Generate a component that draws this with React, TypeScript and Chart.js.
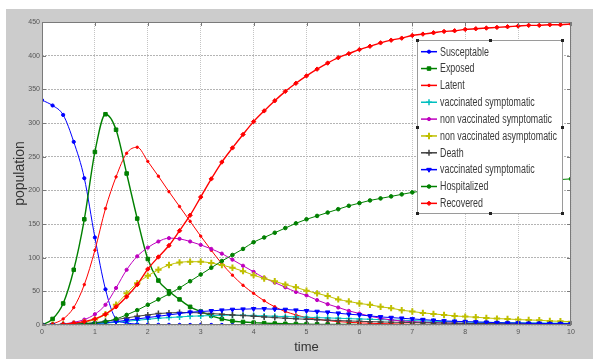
import React, { useEffect, useRef } from 'react';
import { Chart, registerables } from 'chart.js';
import { drawPoint } from 'chart.js/helpers';

Chart.register(...registerables);

const TIME = [0, 0.2, 0.4, 0.6, 0.8, 1, 1.2, 1.4, 1.6, 1.8, 2, 2.2, 2.4, 2.6, 2.8, 3, 3.2, 3.4, 3.6, 3.8, 4, 4.2, 4.4, 4.6, 4.8, 5, 5.2, 5.4, 5.6, 5.8, 6, 6.2, 6.4, 6.6, 6.8, 7, 7.2, 7.4, 7.6, 7.8, 8, 8.2, 8.4, 8.6, 8.8, 9, 9.2, 9.4, 9.6, 9.8, 10];

const SUSCEPTABLE = [334, 326, 312, 272, 218, 130, 53, 9, 3, 1.2, 0.6, 0.4, 0.3, 0.2, 0.15, 0.1, 0.1, 0.1, 0.1, 0.1, 0.1, 0.1, 0.1, 0.1, 0.1, 0.1, 0.1, 0.1, 0.1, 0.1, 0.1, 0.1, 0.1, 0.1, 0.1, 0.1, 0.1, 0.1, 0.1, 0.1, 0.1, 0.1, 0.1, 0.1, 0.1, 0.1, 0.1, 0.1, 0.1, 0.1, 0.1];
const EXPOSED = [0, 9, 32, 82, 157, 257, 313, 290, 225, 158, 98, 66, 50, 38, 27, 20, 14, 9, 6, 4.5, 3.5, 2.8, 2.2, 1.8, 1.5, 1.2, 1, 0.9, 0.8, 0.7, 0.6, 0.5, 0.5, 0.4, 0.4, 0.4, 0.3, 0.3, 0.3, 0.3, 0.2, 0.2, 0.2, 0.2, 0.2, 0.2, 0.1, 0.1, 0.1, 0.1, 0.1];
const LATENT = [0, 2, 9, 26, 60, 111, 173, 220, 255, 264, 243, 221, 198, 176, 154, 132, 111, 91, 74, 59, 47, 36, 27, 20, 15, 11, 8.5, 6.5, 5, 4, 3.2, 2.6, 2.1, 1.7, 1.4, 1.1, 0.9, 0.8, 0.7, 0.6, 0.5, 0.4, 0.4, 0.3, 0.3, 0.3, 0.2, 0.2, 0.2, 0.2, 0.2];
const VACC_SYMPT_A = [0, 0.1, 0.3, 0.6, 1, 1.8, 2.8, 4, 5.5, 7, 8.5, 10, 11, 12, 13, 13.5, 14, 14.5, 14.5, 14.5, 14, 13.5, 13, 12.5, 12, 11.5, 11, 10.5, 10, 9.5, 9, 8.5, 8, 7.5, 7, 6.5, 6, 5.5, 5, 4.8, 4.5, 4.2, 4, 3.8, 3.5, 3.3, 3.1, 3, 2.8, 2.7, 2.5];
const NONVACC_SYMPT = [0, 0.5, 1.5, 4, 8, 16, 30, 55, 82, 102, 115, 124, 129, 128, 124, 119, 113, 106, 97, 88, 79, 70, 63, 56, 49, 44, 37, 31, 26, 21, 17, 13, 10, 7.5, 6, 5, 4.2, 3.6, 3.1, 2.7, 2.3, 2, 1.8, 1.6, 1.4, 1.3, 1.2, 1.1, 1, 0.9, 0.9];
const NONVACC_ASYMPT = [0, 0.3, 1, 2, 4, 8, 16, 30, 47, 62, 73, 82, 89, 93, 94, 94, 92, 89, 85, 80, 74, 69, 65, 60, 56, 51, 47, 43, 38, 35, 32, 30, 27, 25, 22, 20, 18, 16.5, 15, 13.5, 12.5, 11.5, 10.5, 9.5, 9, 8, 7.5, 7, 6, 5.5, 5];
const DEATH = [0, 0.1, 0.4, 1, 2, 3.5, 5.5, 8, 10.5, 13, 15, 17, 18, 18.5, 18.5, 18, 17, 16, 15, 14, 13, 12, 11, 10, 9.2, 8.5, 7.8, 7.2, 6.6, 6, 5.5, 5, 4.6, 4.2, 3.9, 3.6, 3.3, 3, 2.8, 2.6, 2.4, 2.2, 2.1, 2, 1.9, 1.8, 1.7, 1.6, 1.5, 1.5, 1.4];
const VACC_SYMPT_B = [0, 0.2, 0.5, 1, 1.5, 2.5, 3.5, 5, 7, 9, 11, 13, 15, 17, 19, 20, 21, 22, 23, 23.5, 24, 24, 23.5, 23, 22, 21, 20, 19, 17.5, 16, 15, 13.5, 12, 11, 10, 9, 8, 7, 6, 5.5, 5, 4.5, 4, 3.5, 3, 3, 2.5, 2.5, 2, 2, 2];
const HOSPITALIZED = [0, 0.2, 0.5, 1, 2, 3, 5, 9, 15, 22, 30, 38, 46, 55, 65, 75, 85, 95, 104, 113, 123, 130, 137, 144, 151, 157, 162, 167, 172, 177, 181, 185, 188, 191, 194, 197, 199, 201, 203, 205, 206, 208, 209, 210, 211, 212, 213, 214, 215, 216, 217];
const RECOVERED = [0, 0.3, 1, 2.5, 5, 9, 16, 27, 42, 60, 83, 101, 118, 140, 163, 190, 217, 242, 263, 283, 302, 318, 333, 347, 359, 370, 380, 389, 397, 403, 409, 414, 419, 423, 426, 430, 432, 434, 436, 437, 439, 440, 441, 442, 443, 444, 445, 445, 446, 446, 447];

const SERIES_LABELS = ['Susceptable', 'Exposed', 'Latent', 'vaccinated symptomatic', 'non vaccinated symptomatic', 'non vaccinated asymptomatic', 'Death', 'vaccinated symptomatic', 'Hospitalized', 'Recovered'];
const SERIES_VALUES = [SUSCEPTABLE, EXPOSED, LATENT, VACC_SYMPT_A, NONVACC_SYMPT, NONVACC_ASYMPT, DEATH, VACC_SYMPT_B, HOSPITALIZED, RECOVERED];

const X_MIN = 0;
const X_MAX = 10;
const Y_MIN = 0;
const Y_MAX = 450;
const X_TITLE = 'time';
const Y_TITLE = 'population';

const STYLES = [
  { color: '#0000ff', point: 'circle', radius: 1.6, bw: 1, rot: 0 },
  { color: '#008000', point: 'rect', radius: 2.5, bw: 1, rot: 0 },
  { color: '#ff0000', point: 'circle', radius: 1.2, bw: 1, rot: 0 },
  { color: '#00bfbf', point: 'cross', radius: 3, bw: 1.5, rot: 0 },
  { color: '#bf00bf', point: 'circle', radius: 1.6, bw: 1, rot: 0 },
  { color: '#bfbf00', point: 'cross', radius: 3.2, bw: 2, rot: 0 },
  { color: '#404040', point: 'cross', radius: 3, bw: 1.5, rot: 0 },
  { color: '#0000ff', point: 'triangle', radius: 2.6, bw: 1, rot: 180 },
  { color: '#008000', point: 'circle', radius: 1.8, bw: 1, rot: 0 },
  { color: '#ff0000', point: 'rectRot', radius: 2.2, bw: 1, rot: 0 },
];

const FONT = '"Liberation Sans", Arial, sans-serif';

const backgroundPlugin = {
  id: 'matlabBg',
  beforeDraw(chart: any) {
    const { ctx, width, height, chartArea: ca } = chart;
    ctx.save();
    ctx.fillStyle = '#ffffff';
    ctx.fillRect(0, 0, width, height);
    ctx.fillStyle = '#cccccc';
    ctx.fillRect(6, 9, width - 6, height - 11);
    ctx.fillStyle = '#ffffff';
    ctx.fillRect(ca.left, ca.top, ca.right - ca.left, ca.bottom - ca.top);
    ctx.restore();
  },
};

const framePlugin = {
  id: 'matlabFrame',
  afterDatasetsDraw(chart: any) {
    const { ctx, chartArea: ca, scales } = chart;
    ctx.save();
    ctx.strokeStyle = '#7a7a7a';
    ctx.lineWidth = 1;
    ctx.strokeRect(ca.left + 0.5, ca.top + 0.5, ca.right - ca.left - 1, ca.bottom - ca.top - 1);
    ctx.beginPath();
    scales.x.ticks.forEach((t: any) => {
      const px = Math.round(scales.x.getPixelForValue(t.value)) + 0.5;
      ctx.moveTo(px, ca.bottom);
      ctx.lineTo(px, ca.bottom - 4);
      ctx.moveTo(px, ca.top);
      ctx.lineTo(px, ca.top + 4);
    });
    scales.y.ticks.forEach((t: any) => {
      const py = Math.round(scales.y.getPixelForValue(t.value)) + 0.5;
      ctx.moveTo(ca.left, py);
      ctx.lineTo(ca.left + 4, py);
      ctx.moveTo(ca.right, py);
      ctx.lineTo(ca.right - 4, py);
    });
    ctx.stroke();
    ctx.restore();
  },
};

const legendPlugin = {
  id: 'matlabLegend',
  afterDraw(chart: any) {
    const { ctx, chartArea: ca } = chart;
    const left = ca.left + 375;
    const top = ca.top + 18;
    const w = 145;
    const h = 173;
    ctx.save();
    ctx.fillStyle = '#ffffff';
    ctx.fillRect(left, top, w, h);
    ctx.strokeStyle = '#9a9a9a';
    ctx.lineWidth = 1;
    ctx.strokeRect(left + 0.5, top + 0.5, w, h);
    const handles = [
      [left, top], [left + w / 2, top], [left + w, top],
      [left, top + h / 2], [left + w, top + h / 2],
      [left, top + h], [left + w / 2, top + h], [left + w, top + h],
    ];
    ctx.fillStyle = '#222222';
    handles.forEach(([hx, hy]) => ctx.fillRect(Math.round(hx) - 1, Math.round(hy) - 1, 3, 3));

    const rowStart = top + 11.7;
    const rowGap = 16.85;
    chart.data.datasets.forEach((ds: any, i: number) => {
      const y = rowStart + i * rowGap;
      ctx.strokeStyle = ds.borderColor;
      ctx.lineWidth = 1.5;
      ctx.beginPath();
      ctx.moveTo(left + 4, y);
      ctx.lineTo(left + 20, y);
      ctx.stroke();
      ctx.fillStyle = ds.pointBackgroundColor;
      ctx.strokeStyle = ds.pointBorderColor;
      ctx.lineWidth = ds.pointBorderWidth;
      drawPoint(ctx, { pointStyle: ds.pointStyle, rotation: ds.pointRotation, radius: ds.pointRadius, borderWidth: ds.pointBorderWidth } as any, left + 12, y);
      ctx.save();
      ctx.translate(left + 23, y);
      ctx.scale(0.74, 1);
      ctx.fillStyle = '#3a3a3a';
      ctx.font = `12px ${FONT}`;
      ctx.textBaseline = 'middle';
      ctx.textAlign = 'left';
      ctx.fillText(ds.label, 0, 0.5);
      ctx.restore();
    });
    ctx.restore();
  },
};

export default function App() {
  const ref = useRef<HTMLCanvasElement | null>(null);

  useEffect(() => {
    if (!ref.current) return;
    const datasets = SERIES_VALUES.map((vals, i) => {
      const st = STYLES[i];
      return {
        label: SERIES_LABELS[i],
        data: TIME.map((t, j) => ({ x: t, y: vals[j] })),
        borderColor: st.color,
        backgroundColor: st.color,
        borderWidth: i === 9 || i === 1 ? 1.4 : 1,
        pointStyle: st.point,
        pointRadius: st.radius,
        pointRotation: st.rot,
        pointBorderWidth: st.bw,
        pointBackgroundColor: st.color,
        pointBorderColor: st.color,
        pointHoverRadius: st.radius,
        cubicInterpolationMode: 'monotone',
        fill: false,
        order: SERIES_VALUES.length - i,
      };
    });

    const chart = new Chart(ref.current, {
      type: 'line',
      data: { datasets } as any,
      options: {
        animation: false,
        responsive: false,
        maintainAspectRatio: false,
        devicePixelRatio: 1,
        layout: { padding: { left: 0, top: 22, right: 22, bottom: 0 } },
        plugins: {
          legend: { display: false },
          tooltip: { enabled: false },
        },
        scales: {
          x: {
            type: 'linear',
            min: X_MIN,
            max: X_MAX,
            afterFit: (s: any) => { s.height = 36; },
            ticks: { stepSize: 1, color: '#555555', font: { size: 7, family: FONT }, padding: 3, maxRotation: 0 },
            grid: { color: '#c4c4c4', drawTicks: false, lineWidth: 1 },
            border: { display: false, dash: [1, 1] },
            title: { display: true, text: X_TITLE, color: '#333333', font: { size: 13, family: FONT }, padding: { top: 0, bottom: 6 } },
          },
          y: {
            type: 'linear',
            min: Y_MIN,
            max: Y_MAX,
            afterFit: (s: any) => { s.width = 42; },
            ticks: { stepSize: 50, color: '#555555', font: { size: 7, family: FONT }, padding: 2 },
            grid: { color: '#b4b4b4', drawTicks: false, lineWidth: 1 },
            border: { display: false, dash: [2, 1] },
            title: { display: true, text: Y_TITLE, color: '#333333', font: { size: 14, family: FONT }, padding: { top: 12, bottom: 0 } },
          },
        },
      } as any,
      plugins: [backgroundPlugin, framePlugin, legendPlugin],
    });
    return () => chart.destroy();
  }, []);

  return (
    <div style={{ position: 'absolute', left: 0, top: 0, width: 593, height: 361 }}>
      <canvas ref={ref} width={593} height={361} style={{ width: 593, height: 361, display: 'block' }} />
    </div>
  );
}
